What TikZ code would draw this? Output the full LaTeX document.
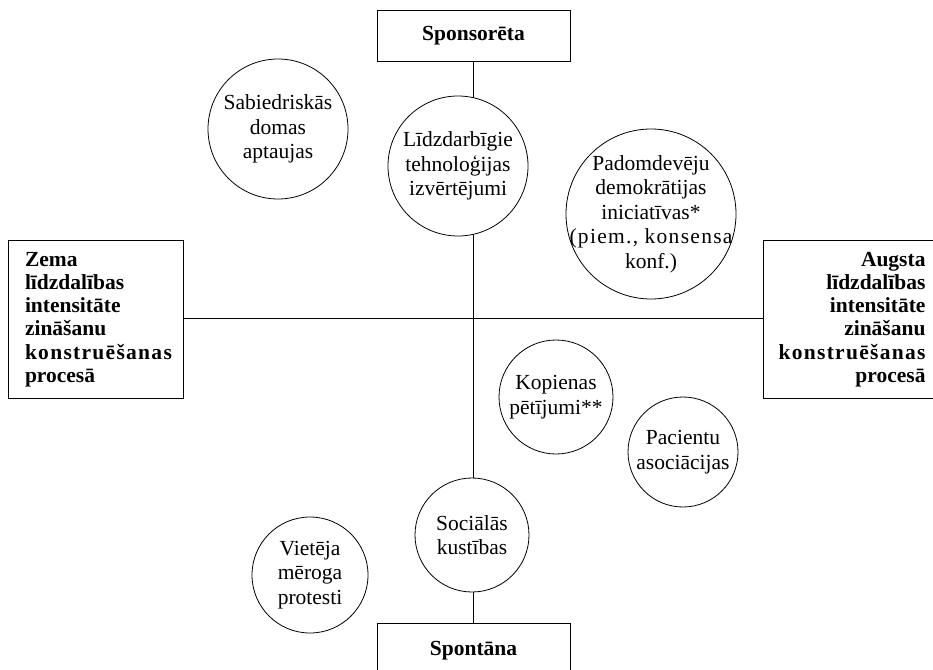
\documentclass[tikz,border=0pt]{standalone}
\usepackage{fontspec}
\setmainfont{Liberation Serif}
\newfontfamily\widebold[LetterSpace=6]{Liberation Serif}
\newfontfamily\wideserif[LetterSpace=6]{Liberation Serif}
\usetikzlibrary{backgrounds}
\hfuzz=20pt
\begin{document}
\begin{tikzpicture}[x=1pt,y=-1pt,
  circ/.style={circle, draw, fill=white, inner sep=0pt, align=center,
    font=\fontsize{21.5}{24.5}\selectfont, line width=0.8pt},
  boxnode/.style={rectangle, draw, fill=white, inner ysep=0pt,
    font=\bfseries\fontsize{21.5}{23.2}\selectfont, line width=0.8pt},
  axis/.style={line width=0.8pt}]
\useasboundingbox (0,0) rectangle (933,669);

% boxes
\node[boxnode, minimum width=193pt, minimum height=51pt] (top) at (473.5,35.5) {Sponsorēta};
\node[boxnode, minimum width=193pt, minimum height=56pt] (bot) at (473.5,651) {Spontāna};
\node[boxnode, minimum width=175pt, minimum height=158pt, inner xsep=17pt, text width=141pt, align=left] (left) at (95.5,319.5)
  {Zema\\līdzdalības\\intensitāte\\zināšanu\\{\widebold\bfseries konstruēšanas}\\procesā};
\node[boxnode, minimum width=177pt, minimum height=158pt, inner xsep=11pt, text width=148pt, align=right] (right) at (851.5,319.5)
  {Augsta\\līdzdalības\\intensitāte\\zināšanu\\{\widebold\bfseries konstruēšanas}\\procesā};

% circles
\node[circ, minimum size=140pt] (sab) at (278,129) {Sabiedriskās\\domas\\aptaujas};
\node[circ, minimum size=140pt] (lid) at (458,166) {Līdzdarbīgie\\tehnoloģijas\\izvērtējumi};
\node[circ, minimum size=170pt, inner sep=-18pt] (pad) at (651,214) {Padomdevēju\\demokrātijas\\iniciatīvas*\\{\wideserif (piem.,\hspace{0.3em}konsensa}\\konf.)};
\node[circ, minimum size=114pt] (kop) at (556,397) {Kopienas\\pētījumi**};
\node[circ, minimum size=110pt] (pac) at (683,452) {Pacientu\\asociācijas};
\node[circ, minimum size=114pt] (soc) at (472,535) {Sociālās\\kustības};
\node[circ, minimum size=116pt] (vie) at (310,575) {Vietēja\\mēroga\\protesti};

% axes behind circles
\begin{pgfonlayer}{background}
\draw[axis] (top.south) -- (bot.north);
\draw[axis] (left.east |- 0,318) -- (right.west |- 0,318);
\end{pgfonlayer}
\end{tikzpicture}
\end{document}
